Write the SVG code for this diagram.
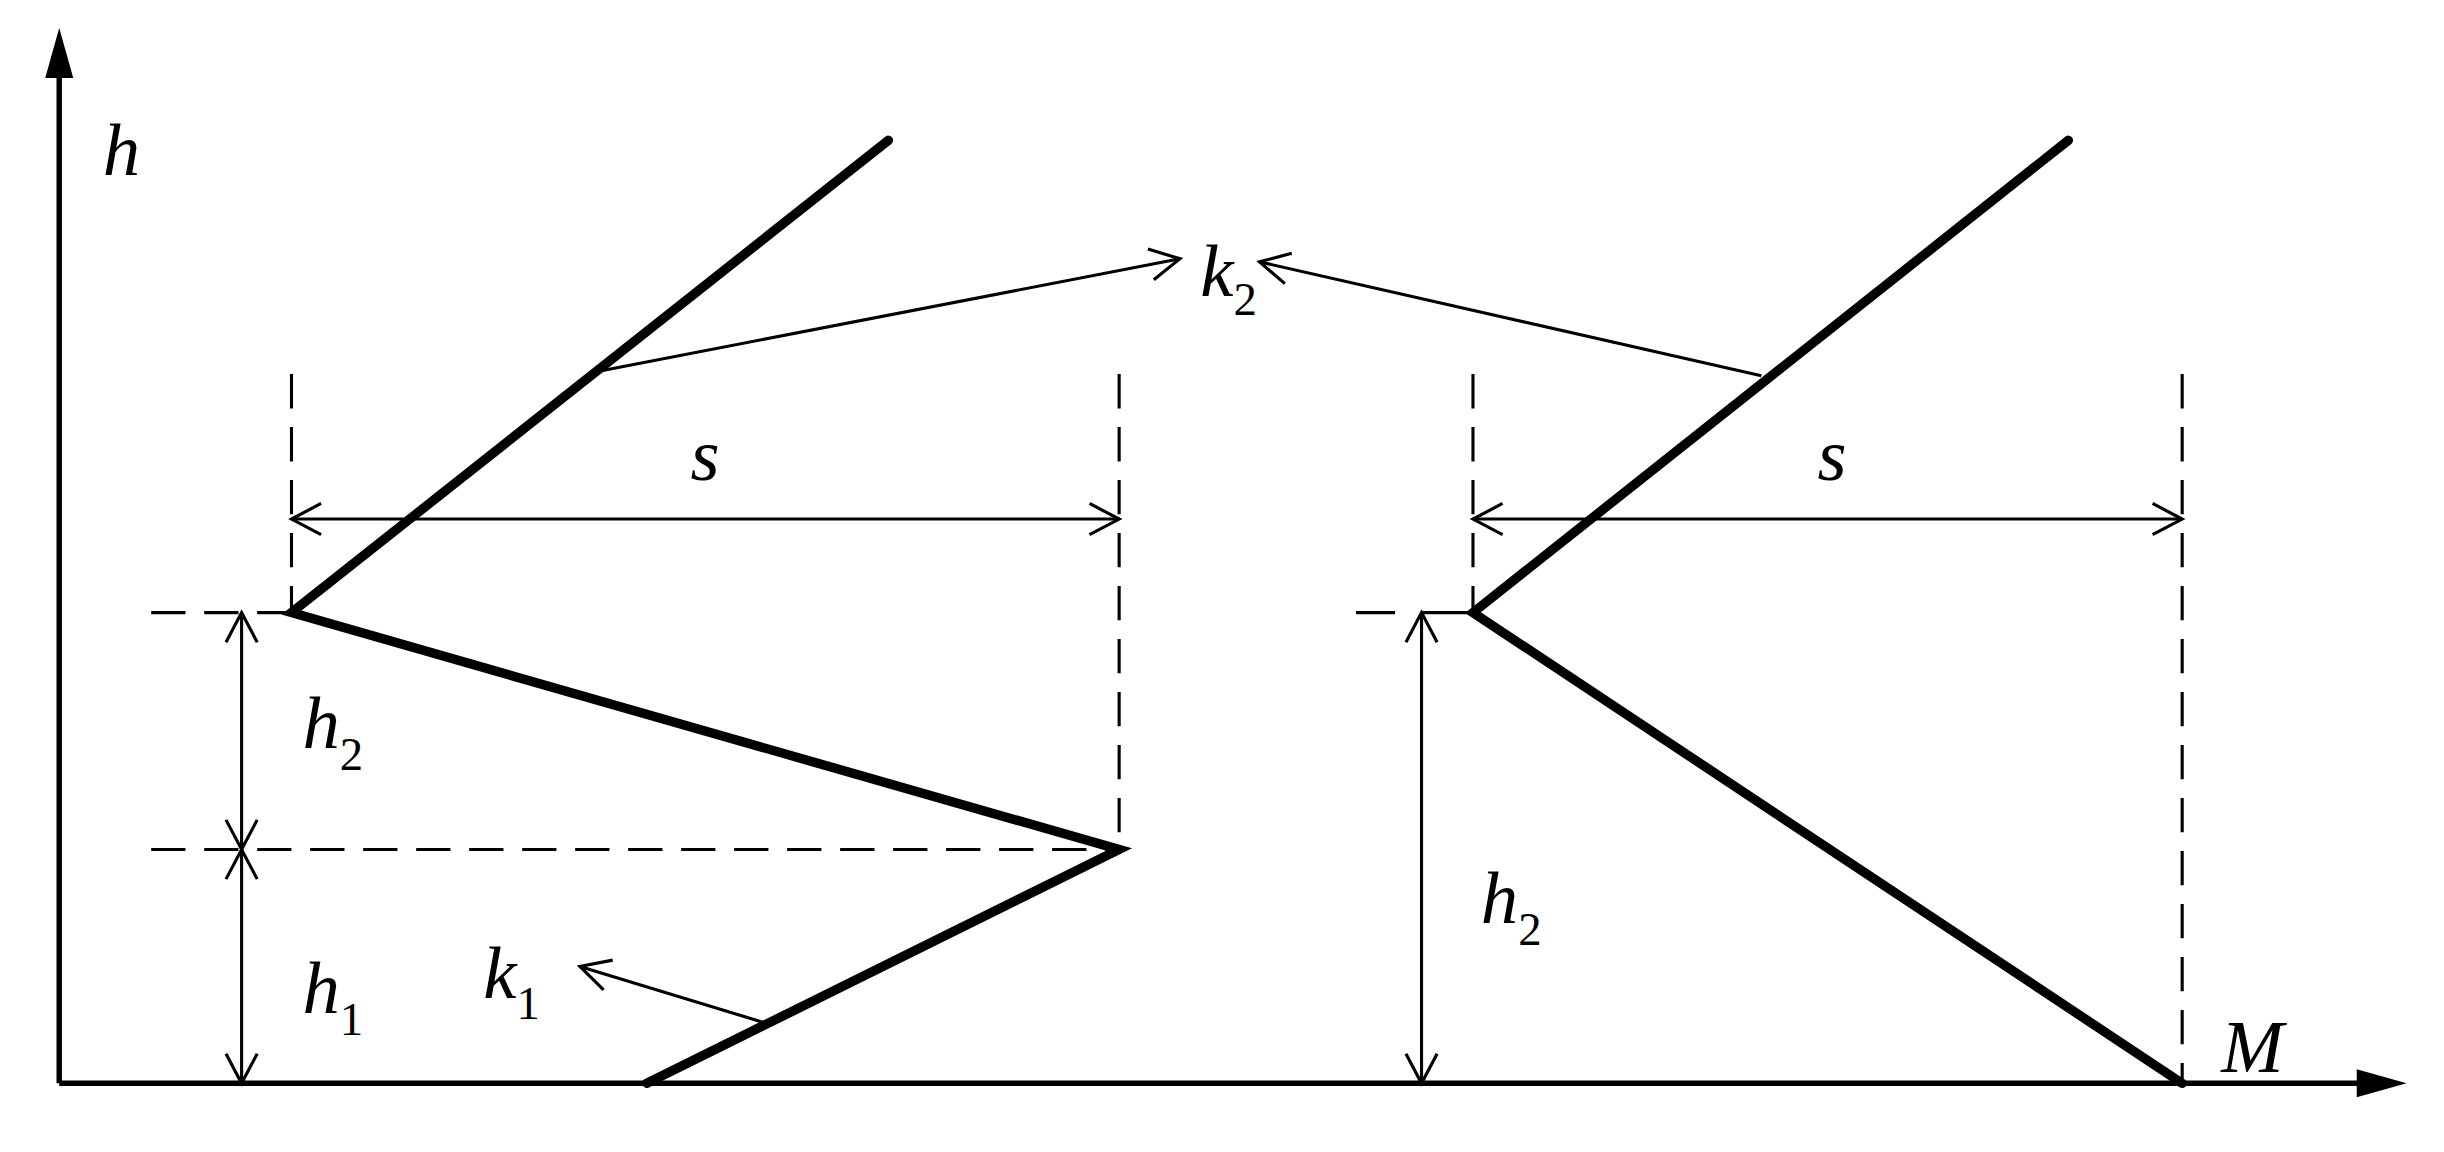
<svg xmlns="http://www.w3.org/2000/svg" width="2444" height="1152" viewBox="0 0 2444 1152">
<style>
.thick{stroke:#000;stroke-width:6;fill:none;stroke-linecap:round}
.thin{stroke:#000;stroke-width:2;fill:none}
.dash{stroke:#000;stroke-width:2;fill:none;stroke-dasharray:22,12}
.ax{stroke:#000;stroke-width:3.5;fill:none}
text{font-family:"Liberation Serif","Times New Roman",serif;font-style:italic;font-size:48px;fill:#000}
.sub{font-style:normal;font-size:30px}
</style>
<defs>
<marker id="oa" markerWidth="24" markerHeight="24" refX="21" refY="12" orient="auto-start-reverse" markerUnits="userSpaceOnUse"><path d="M2,2 L21,12 L2,22" fill="none" stroke="#000" stroke-width="2"/></marker>
</defs>
<rect width="2444" height="1152" fill="#fff"/>
<g transform="scale(1.5587)">
<g id="axes">
<line class="ax" x1="38" y1="695" x2="38" y2="40"/>
<path d="M38,18 L29,50 L47,50 Z"/>
<line class="ax" x1="38" y1="695" x2="1520" y2="695"/>
<path d="M1544,695 L1512,686 L1512,704 Z"/>
<text x="66" y="112">h</text>
<text x="1425" y="688">M</text>
</g>
<g id="left-curve">
<polyline class="thick" points="570,90 187,393 718,545 415,695"/>
</g>
<g id="right-curve">
<polyline class="thick" points="1327,90 945,393 1400,695"/>
</g>
<g id="guides">
<line class="dash" x1="187" y1="240" x2="187" y2="390"/>
<line class="dash" x1="718" y1="240" x2="718" y2="545"/>
<line class="dash" x1="97" y1="393" x2="187" y2="393"/>
<line class="dash" x1="97" y1="545" x2="718" y2="545"/>
<line class="dash" x1="945" y1="240" x2="945" y2="390"/>
<line class="dash" x1="1400" y1="240" x2="1400" y2="695"/>
<line class="thin" x1="870" y1="393" x2="895" y2="393"/>
<line class="thin" x1="912" y1="393" x2="945" y2="393"/>
</g>
<g id="connectors">
<line class="thin" x1="385" y1="238" x2="757" y2="166" marker-end="url(#oa)"/>
<line class="thin" x1="1130" y1="241" x2="808" y2="168" marker-end="url(#oa)"/>
<line class="thin" x1="490" y1="656" x2="372" y2="620" marker-end="url(#oa)"/>
<line class="thin" x1="187" y1="333" x2="718" y2="333" marker-start="url(#oa)" marker-end="url(#oa)"/>
<line class="thin" x1="945" y1="333" x2="1400" y2="333" marker-start="url(#oa)" marker-end="url(#oa)"/>
<line class="thin" x1="155" y1="393" x2="155" y2="545" marker-start="url(#oa)" marker-end="url(#oa)"/>
<line class="thin" x1="155" y1="545" x2="155" y2="695" marker-start="url(#oa)" marker-end="url(#oa)"/>
<line class="thin" x1="912" y1="393" x2="912" y2="695" marker-start="url(#oa)" marker-end="url(#oa)"/>
</g>
<g id="labels">
<text x="443" y="308">s</text>
<text x="1166" y="308">s</text>
<text x="770" y="190">k<tspan class="sub" dy="12">2</tspan></text>
<text x="194" y="480">h<tspan class="sub" dy="14">2</tspan></text>
<text x="194" y="650">h<tspan class="sub" dy="14">1</tspan></text>
<text x="310" y="640">k<tspan class="sub" dy="14">1</tspan></text>
<text x="950" y="592">h<tspan class="sub" dy="14">2</tspan></text>
</g>
</g>
</svg>
